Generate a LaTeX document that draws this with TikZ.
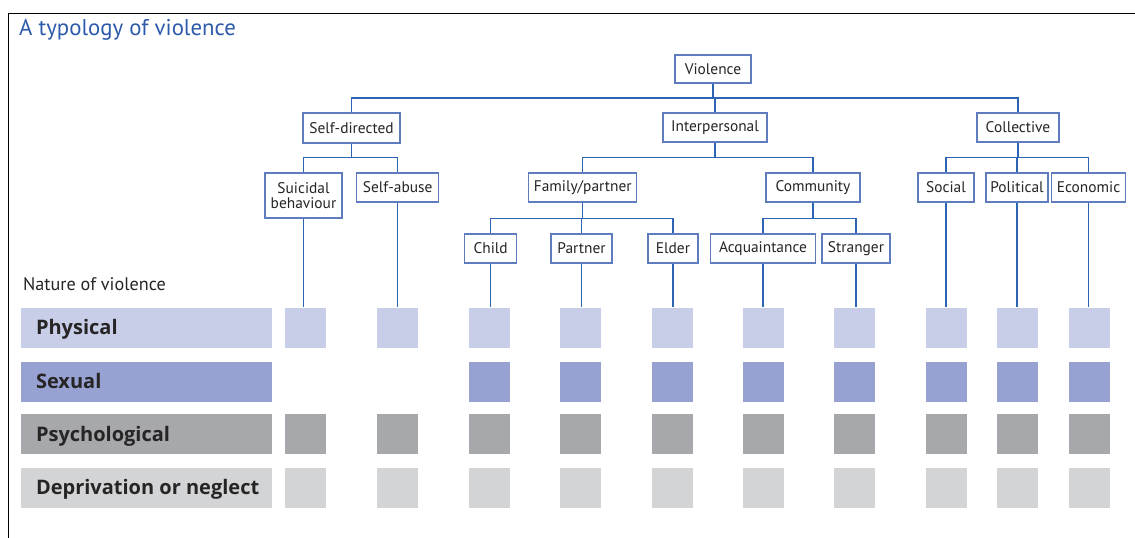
\documentclass[tikz,border=0pt]{standalone}
\usepackage{fontspec}
\setmainfont{PT Sans}
\newfontfamily\barfont{Open Sans}
\definecolor{lineblue}{RGB}{46,100,180}
\definecolor{boxblue}{RGB}{95,125,190}
\definecolor{titleblue}{RGB}{45,90,170}
\definecolor{cphys}{RGB}{200,205,232}
\definecolor{csex}{RGB}{151,162,211}
\definecolor{cpsy}{RGB}{167,168,171}
\definecolor{cdep}{RGB}{211,212,214}
\definecolor{txt}{RGB}{38,36,36}
\begin{document}
\begin{tikzpicture}[x=1pt,y=-1pt,
  tbox/.style={draw=boxblue,line width=1.3pt,fill=white,inner sep=0pt,
    minimum height=29pt,text=txt,align=center,
    font=\fontsize{15.4}{14.5}\selectfont},
  link/.style={draw=lineblue,line width=1.2pt},
  sq/.style={minimum width=41pt,minimum height=40pt,inner sep=0pt},
  bar/.style={minimum width=251pt,minimum height=40pt,inner sep=0pt},
  barlabel/.style={anchor=base west,text=txt,font=\barfont\bfseries\fontsize{20}{22}\selectfont}]
\useasboundingbox (0,0) rectangle (1135,538);
\draw[line width=1.6pt] (8.5,538) -- (8.5,13.5) -- (1135,13.5);
\node[anchor=base west,text=titleblue,inner sep=0pt,font=\fontsize{22.8}{25}\selectfont] (title) at (19,35) {A typology of violence};
\node[anchor=base west,text=txt,inner sep=0pt,font=\fontsize{18.2}{20}\selectfont] (nature) at (23,290.5) {Nature of violence};

% tree
\node[tbox,minimum width=76pt,minimum height=28pt] (V) at (713,69) {Violence};
\node[tbox,minimum width=97pt,minimum height=30pt] (SD) at (351.5,128) {Self-directed};
\node[tbox,minimum width=104pt] (IP) at (715,127.5) {Interpersonal};
\node[tbox,minimum width=82pt] (CO) at (1018,127.5) {Collective};

\node[tbox,minimum width=77pt,minimum height=45pt] (L1) at (303.5,195.5) {Suicidal\\behaviour};
\node[tbox,minimum width=82pt] (L2) at (397.7,187.5) {Self-abuse};
\node[tbox,minimum width=108pt] (FP) at (582.7,187.5) {Family/partner};
\node[tbox,minimum width=94pt] (CM) at (813,187.5) {Community};
\node[tbox,minimum width=56pt] (L8) at (946,187.5) {Social};
\node[tbox,minimum width=62pt] (L9) at (1017,187.5) {Political};
\node[tbox,minimum width=74pt] (L10) at (1088.5,187.5) {Economic};

\node[tbox,minimum width=52pt] (L3) at (490.7,248.5) {Child};
\node[tbox,minimum width=61pt] (L4) at (581.5,248.5) {Partner};
\node[tbox,minimum width=50pt] (L5) at (673,248.5) {Elder};
\node[tbox,minimum width=105pt] (L6) at (763,248.5) {Acquaintance};
\node[tbox,minimum width=68pt] (L7) at (856,248.5) {Stranger};

\coordinate (b1) at (0,98);
\coordinate (b2) at (0,157.7);
\coordinate (b3) at (0,218.3);

\draw[link] (V.south) -- (V.south |- b1);
\draw[link] (SD.north) |- (V.south |- b1) -| (CO.north);
\draw[link] (IP.north) -- (IP.north |- b1);

\draw[link] (SD.south) -- (SD.south |- b2);
\draw[link] (L1.north) |- (SD.south |- b2) -| (L2.north);
\draw[link] (IP.south) -- (IP.south |- b2);
\draw[link] (FP.north) |- (IP.south |- b2) -| (CM.north);
\draw[link] (CO.south) -- (CO.south |- b2);
\draw[link] (L8.north) |- (CO.south |- b2) -| (L10.north);
\draw[link] (L9.north) -- (L9.north |- b2);

\draw[link] (FP.south) -- (FP.south |- b3);
\draw[link] (L3.north) |- (FP.south |- b3) -| (L5.north);
\draw[link] (L4.north) -- (L4.north |- b3);
\draw[link] (CM.south) -- (CM.south |- b3);
\draw[link] (L6.north) |- (CM.south |- b3) -| (L7.north);

% rows
\foreach \n/\c/\y/\t in {r1/cphys/327.5/Physical, r2/csex/381.5/Sexual, r3/cpsy/434/Psychological, r4/cdep/487.5/Deprivation or neglect}{
  \node[bar,fill=\c] (\n) at (146.5,\y) {};
  \node[barlabel] at (32.5,\y+7) {\t};
}
% squares
\foreach \i/\x in {1/305.5,2/397.5,3/489,4/580,5/672,6/763,7/854.5,8/946,9/1017,10/1089}{
  \node[sq,fill=cphys] (p\i) at (\x,327.5) {};
  \node[sq,fill=cpsy] (s\i) at (\x,434) {};
  \node[sq,fill=cdep] (d\i) at (\x,487.5) {};
  \draw[link] (L\i.south) -- (L\i.south |- p\i.north);
}
\foreach \i/\x in {3/489,4/580,5/672,6/763,7/854.5,8/946,9/1017,10/1089}{
  \node[sq,fill=csex] (x\i) at (\x,381.5) {};
}
\end{tikzpicture}
\end{document}
